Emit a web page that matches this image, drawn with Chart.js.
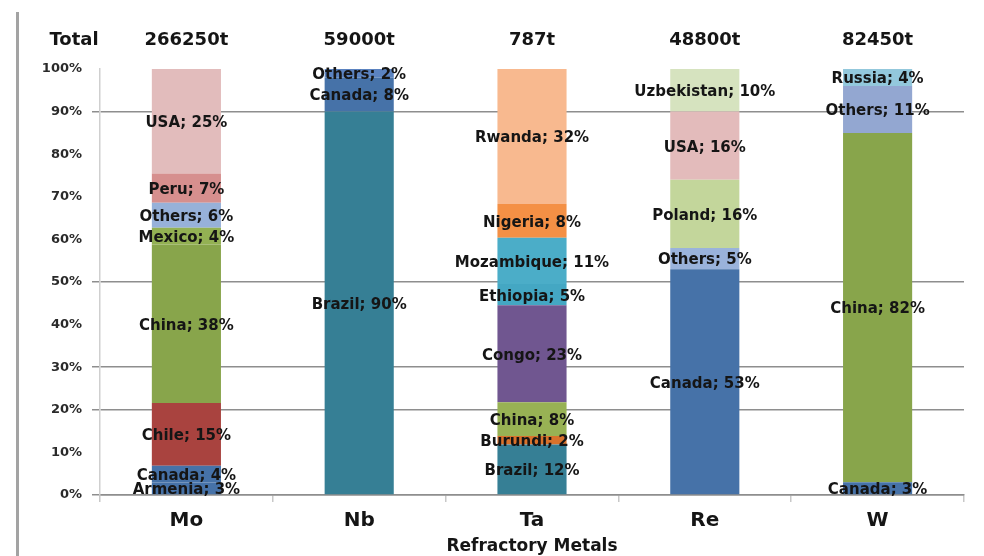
<!DOCTYPE html>
<html>
<head>
<meta charset="utf-8">
<script src="https://cdn.jsdelivr.net/npm/chart.js@4.4.1/dist/chart.umd.min.js"></script>
<style>
  html, body { margin: 0; padding: 0; background: #ffffff; }
  #wrap { width: 984px; height: 556px; position: relative; }
</style>
</head>
<body>
<div id="wrap"><canvas id="chart"></canvas></div>
<script>
/* ======================================================
   DATA
====================================================== */

const metals = ['Mo', 'Nb', 'Ta', 'Re', 'W'];
const totals = ['266250t', '59000t', '787t', '48800t', '82450t'];
const yTicks = [0, 10, 20, 30, 40, 50, 60, 70, 80, 90, 100];

// shares per metal, bottom to top
const moCountries = ['Armenia', 'Canada', 'Chile', 'China', 'Mexico', 'Others', 'Peru', 'USA'];
const moShares    = [3, 4, 15, 38, 4, 6, 7, 25];

const nbCountries = ['Brazil', 'Canada', 'Others'];
const nbShares    = [90, 8, 2];

const taCountries = ['Brazil', 'Burundi', 'China', 'Congo', 'Ethiopia', 'Mozambique', 'Nigeria', 'Rwanda'];
const taShares    = [12, 2, 8, 23, 5, 11, 8, 32];

const reCountries = ['Canada', 'Others', 'Poland', 'USA', 'Uzbekistan'];
const reShares    = [53, 5, 16, 16, 10];

const wCountries  = ['Canada', 'China', 'Others', 'Russia'];
const wShares     = [3, 82, 11, 4];

/* ======================================================
   STYLES
====================================================== */

const segmentColors = {
  Mo: ['#4672a8', '#4672a8', '#a9433f', '#88a54b', '#93b153', '#97b1d9', '#d68f8e', '#e2bcbc'],
  Nb: ['#367f95', '#4672a8', '#5b83c0'],
  Ta: ['#367f95', '#d9722c', '#98b254', '#705690', '#44a7c3', '#4badc8', '#f49045', '#f8b98f'],
  Re: ['#4672a8', '#9ab3db', '#c3d69b', '#e3bbbb', '#d6e3bf'],
  W:  ['#4672a8', '#88a54b', '#93a7d1', '#93c8dc']
};

const FONT = '"DejaVu Sans", "Liberation Sans", sans-serif';
const shownGrid = [0, 20, 30, 50, 90];

/* ======================================================
   DATASET BUILDER (100% stacked)
====================================================== */

const stacks = [
  { metal: 'Mo', countries: moCountries, shares: moShares },
  { metal: 'Nb', countries: nbCountries, shares: nbShares },
  { metal: 'Ta', countries: taCountries, shares: taShares },
  { metal: 'Re', countries: reCountries, shares: reShares },
  { metal: 'W',  countries: wCountries,  shares: wShares }
];

const datasets = [];
stacks.forEach((s, mi) => {
  const sum = s.shares.reduce((a, b) => a + b, 0);
  s.countries.forEach((c, ci) => {
    const data = metals.map((_, i) => i === mi ? s.shares[ci] / sum * 100 : null);
    datasets.push({
      label: c,
      share: s.shares[ci],
      data,
      backgroundColor: segmentColors[s.metal][ci],
      borderWidth: 0,
      barPercentage: 0.8,
      categoryPercentage: 0.5
    });
  });
});

/* ======================================================
   PLUGINS
====================================================== */

const segmentLabels = {
  id: 'segmentLabels',
  afterDatasetsDraw(chart) {
    const { ctx } = chart;
    ctx.save();
    ctx.font = 'bold 15px ' + FONT;
    ctx.fillStyle = '#151515';
    ctx.textAlign = 'center';
    ctx.textBaseline = 'middle';
    chart.data.datasets.forEach((ds, di) => {
      const meta = chart.getDatasetMeta(di);
      meta.data.forEach((el, i) => {
        if (ds.data[i] == null) return;
        const y = (el.y + el.base) / 2 + 2;
        ctx.fillText(ds.label + '; ' + ds.share + '%', el.x, y);
      });
    });
    ctx.restore();
  }
};

const headerRow = {
  id: 'headerRow',
  beforeDraw(chart) {
    const { ctx } = chart;
    ctx.save();
    // left frame line
    ctx.strokeStyle = '#a3a3a3';
    ctx.lineWidth = 3;
    ctx.beginPath();
    ctx.moveTo(17.5, 12);
    ctx.lineTo(17.5, 556);
    ctx.stroke();
    ctx.restore();
  },
  afterDraw(chart) {
    const { ctx, scales: { x } } = chart;
    ctx.save();
    ctx.font = 'bold 18px ' + FONT;
    ctx.fillStyle = '#151515';
    ctx.textAlign = 'center';
    ctx.textBaseline = 'middle';
    ctx.fillText('Total', 74, 40);
    totals.forEach((t, i) => ctx.fillText(t, x.getPixelForValue(i), 40));
    ctx.restore();
  }
};

/* ======================================================
   CHART
====================================================== */

new Chart(document.getElementById('chart'), {
  type: 'bar',
  data: { labels: metals, datasets },
  plugins: [segmentLabels, headerRow],
  options: {
    responsive: true,
    maintainAspectRatio: false,
    animation: false,
    layout: { padding: { top: 69, right: 20, bottom: 0, left: 0 } },
    plugins: {
      legend: { display: false },
      tooltip: { enabled: false }
    },
    scales: {
      x: {
        stacked: true,
        afterFit: s => { s.height = 61; },
        grid: {
          offset: true,
          drawOnChartArea: false,
          tickLength: 7,
          color: '#c8c8c8',
          lineWidth: 1.5
        },
        border: { color: '#8e8e8e', width: 1.5 },
        ticks: {
          padding: 7,
          color: '#151515',
          font: { family: FONT, size: 20, weight: 'bold' }
        },
        title: {
          display: true,
          text: 'Refractory Metals',
          color: '#151515',
          padding: 0,
          font: { family: FONT, size: 17, weight: 'bold', lineHeight: 1.1 }
        }
      },
      y: {
        stacked: true,
        min: 0,
        max: 100,
        afterFit: s => { s.width = 100; },
        afterBuildTicks: s => { s.ticks = yTicks.map(v => ({ value: v })); },
        grid: {
          tickLength: 8,
          lineWidth: 1.5,
          color: c => shownGrid.includes(c.tick.value) ? '#8e8e8e' : 'rgba(0,0,0,0)',
          tickColor: c => shownGrid.includes(c.tick.value) ? '#8e8e8e' : 'rgba(0,0,0,0)'
        },
        border: { color: '#cfcfcf', width: 1.5 },
        ticks: {
          padding: 10,
          color: '#2a2a2a',
          font: { family: FONT, size: 13, weight: 'bold' },
          callback: v => v + '%'
        }
      }
    }
  }
});
</script>
</body>
</html>
